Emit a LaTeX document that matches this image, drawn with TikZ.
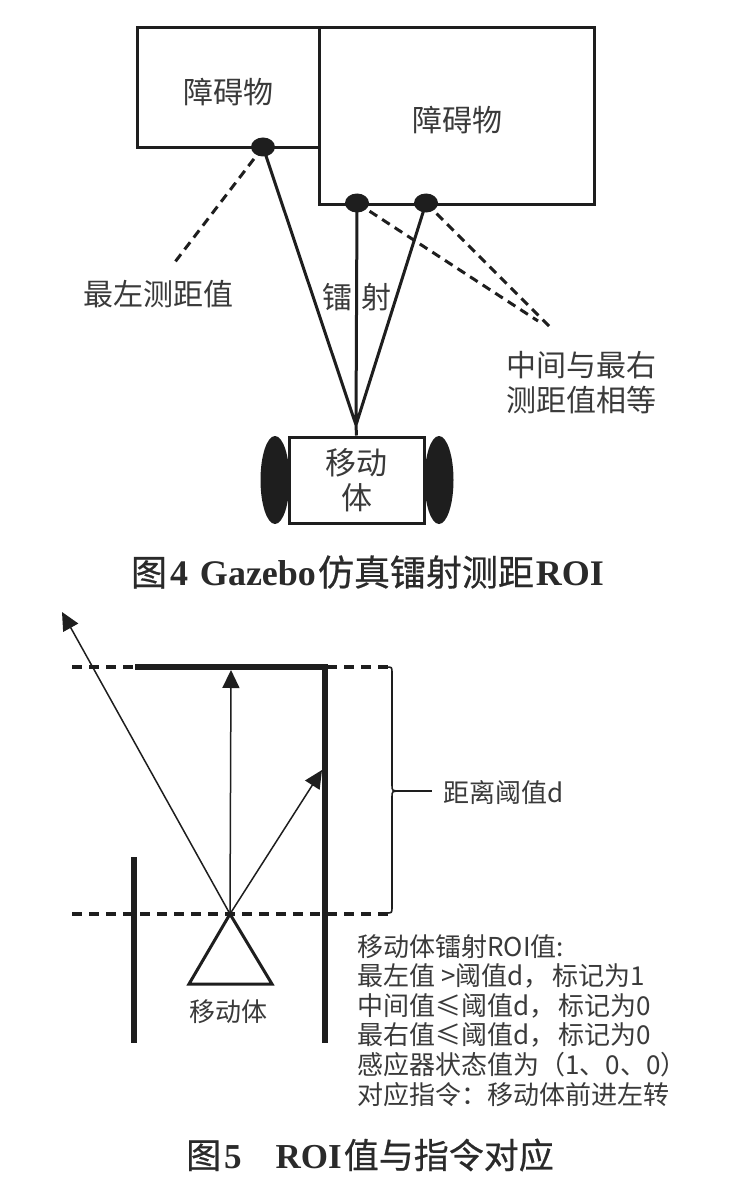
\documentclass[tikz,border=0pt]{standalone}
\usepackage{fontspec}
\setmainfont{Noto Sans CJK SC}
\newfontfamily\capcjk{Noto Sans CJK SC}[FakeBold=0.6]
\newfontfamily\tnr{Liberation Serif}
\usetikzlibrary{shapes.geometric,arrows.meta}
\definecolor{ink}{HTML}{1E1E1E}
\definecolor{txt}{HTML}{3A3A3A}
\definecolor{captxt}{HTML}{2A2A2A}
\begin{document}
\begin{tikzpicture}[x=1pt,y=-1pt,
  box/.style={draw=ink, line width=3pt, inner sep=0pt},
  dot/.style={ellipse, fill=ink, inner sep=0pt, minimum width=24pt, minimum height=19pt},
  wheel/.style={ellipse, fill=ink, inner sep=0pt, minimum width=29pt, minimum height=88pt},
  beam/.style={draw=ink, line width=3pt},
  dbeam/.style={draw=ink, line width=3pt, dash pattern=on 9pt off 6pt},
  lbl/.style={text=txt, font=\fontsize{30}{35}\selectfont, inner sep=0pt},
  slbl/.style={text=txt, font=\fontsize{26}{29.6}\selectfont, inner sep=0pt},
  captionstyle/.style={text=captxt, inner sep=0pt},
  dline/.style={draw=ink, line width=3.2pt, dash pattern=on 10pt off 7pt},
  wall/.style={draw=ink, line width=5.5pt, line join=miter},
  ray/.style={draw=ink, line width=1.5pt, -{Triangle[length=18pt,width=17pt]}},
  bracepath/.style={draw=ink, line width=1.6pt},
]
\useasboundingbox (0,0) rectangle (730,1185);
\fill[white] (0,0) rectangle (730,1185);

% ---------- Figure 4 ----------
\node[box, minimum width=182pt, minimum height=120pt] (obsL) at (228,88) {};
\node[box, minimum width=275pt, minimum height=176pt] (obsR) at (456.5,116) {};
\node[lbl] (obsLt) at (228,92) {障碍物};
\node[lbl] (obsRt) at (457,120) {障碍物};

\coordinate (cL) at (263,147);
\coordinate (cM) at (357,203);
\coordinate (cR) at (426,203);
\coordinate (conv) at (356,425);
\coordinate (eL) at (175,262);
\coordinate (eM) at (538,321);
\coordinate (eR) at (553,330);

\node[wheel] (wl) at (275,480) {};
\node[wheel] (wr) at (439,480) {};
\node[box, fill=white, minimum width=135pt, minimum height=86pt,
      text=txt, font=\fontsize{31}{35}\selectfont, align=center] (robot) at (356.5,480) {移动\\体};

\draw[beam] (cL) -- (conv) (cM) -- (conv) (cR) -- (conv) (conv) -- (robot.north);
\draw[dbeam] (cL) -- (eL);
\draw[dbeam] (cM) -- (eM);
\draw[dbeam] (cR) -- (eR);
\node[dot] (dL) at (cL) {};
\node[dot] (dM) at (cM) {};
\node[dot] (dR) at (cR) {};

\node[lbl] (lblL) at (158,294) {最左测距值};
\node[lbl] (lblB1) at (337,297) {镭};
\node[lbl] (lblB2) at (376,297) {射};
\node[lbl, align=left, anchor=west] (lblR) at (506,382.5) {中间与最右\\测距值相等};

\node[captionstyle, font=\fontsize{36}{40}\selectfont] (cap4) at (367.5,572)
  {{\capcjk 图}\hspace{3pt}{\tnr\bfseries 4\hspace{12pt}Gazebo}\hspace{2pt}{\capcjk 仿真镭射测距}\hspace{2pt}{\tnr\bfseries ROI}};

% ---------- Figure 5 ----------
\coordinate (dTa) at (72,667);
\coordinate (dTb) at (388,667);
\coordinate (dBa) at (72,914);
\coordinate (dBb) at (388,914);
\draw[dline] (dTa) -- (dTb);
\draw[dline] (dBa) -- (dBb);

\coordinate (wTop) at (135,667);
\coordinate (wCorner) at (325,667);
\coordinate (wRb) at (325,1043);
\coordinate (wLt) at (134,857);
\coordinate (wLb) at (134,1043);
\draw[wall] (wTop) -- (wCorner) -- (wRb);
\draw[wall] (wLt) -- (wLb);

\coordinate (bot) at (230,914);
\coordinate (tipL) at (62,612);
\coordinate (tipM) at (231,670);
\coordinate (tipR) at (322,770);
\draw[ray] (bot) -- (tipL);
\draw[ray] (bot) -- (tipM);
\draw[ray] (bot) -- (tipR);

\coordinate (triL) at (189,984);
\coordinate (triR) at (272,984);
\draw[draw=ink, line width=3pt, line join=miter] (bot) -- (triL) -- (triR) -- cycle;
\node[slbl] (robot5) at (228,1012) {移动体};

% brace
\coordinate (cusp) at (401,791);
\coordinate (tick) at (432,791);
\draw[bracepath] (386,667) .. controls (392,667) .. (392,673) -- (392,785)
   .. controls (392,791) .. (cusp) .. controls (392,791) .. (392,797)
   -- (392,907) .. controls (392,913) .. (386,913);
\node[slbl, anchor=west] (dlbl) at (443,793) {距离阈值d};
\draw[bracepath] (cusp) -- (tick);

\node[slbl, anchor=north west, align=left] (roi) at (357,934)
 {移动体镭射ROI值:\\
  最左值 >阈值d，\hspace{3pt}标记为1\\
  中间值≤阈值d，\hspace{3pt}标记为0\\
  最右值≤阈值d，\hspace{3pt}标记为0\\
  感应器状态值为（1、0、0）\\
  对应指令：移动体前进左转};

\node[captionstyle, font=\fontsize{35}{40}\selectfont] (cap5) at (370,1155)
  {{\capcjk 图}\hspace{3pt}{\tnr\bfseries 5}\hspace{34pt}{\tnr\bfseries ROI}\hspace{2pt}{\capcjk 值与指令对应}};
\end{tikzpicture}
\end{document}
